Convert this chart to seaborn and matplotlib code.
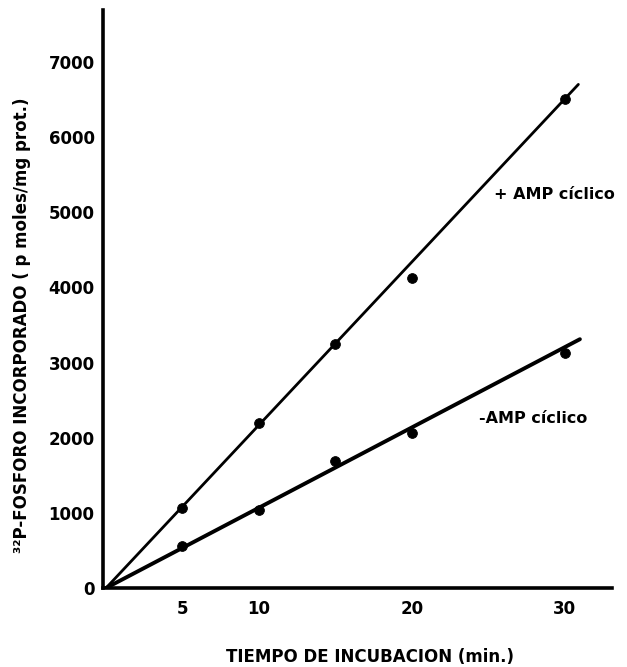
import matplotlib
matplotlib.use("Agg")
import matplotlib.pyplot as plt
import seaborn as sns
import pandas as pd

# Data
tiempo = [5, 10, 15, 20, 30]
con_amp = [1070, 2190, 3240, 4130, 6510]
sin_amp = [560, 1040, 1690, 2060, 3130]

fit_x_con = [0, 30.9]
fit_con = [0, 6700]
fit_x_sin = [0, 31.0]
fit_sin = [0, 3310]

x_ticks = [5, 10, 20, 30]
y_ticks = [0, 1000, 2000, 3000, 4000, 5000, 6000, 7000]

sns.set_style("white")
plt.rcParams['font.family'] = ['DejaVu Sans']
plt.rcParams['text.color'] = 'black'

fig = plt.figure(figsize=(6.27, 6.67), dpi=100)
ax = fig.add_axes([103/627, 1 - 588/667, (612-103)/627, (588-10)/667])

df = pd.DataFrame({"t": tiempo + tiempo,
                   "v": con_amp + sin_amp,
                   "g": ["+"] * 5 + ["-"] * 5})
sns.scatterplot(data=df, x="t", y="v", color="black", s=50, edgecolor="black",
                ax=ax, zorder=3, legend=False)
sns.lineplot(x=fit_x_con, y=fit_con, color="black", lw=2.0, ax=ax)
sns.lineplot(x=fit_x_sin, y=fit_sin, color="black", lw=2.8, ax=ax)

ax.set_xlim(-0.2, 33.1)
ax.set_ylim(0, 7690)
ax.set_xticks(x_ticks)
ax.set_yticks(y_ticks)
ax.set_xticklabels([str(v) for v in x_ticks], fontweight="bold", fontsize=12, color="black")
ax.set_yticklabels([str(v) for v in y_ticks], fontweight="bold", fontsize=12, color="black")
ax.tick_params(axis="x", direction="in", length=6, width=1.5, pad=9, colors="black")
ax.tick_params(axis="y", direction="out", length=5, width=1.5, pad=1, colors="black")

for s in ["top", "right"]:
    ax.spines[s].set_visible(False)
for s in ["left", "bottom"]:
    ax.spines[s].set_linewidth(2.6)
    ax.spines[s].set_color("black")

ax.set_xlabel("TIEMPO DE INCUBACION (min.)", fontweight="bold", fontsize=12, color="black")
ax.set_ylabel("³²P-FOSFORO INCORPORADO ( p moles/mg prot.)", fontweight="bold",
              fontsize=12, color="black")
ax.xaxis.set_label_coords(0.525, -0.103)
ax.yaxis.set_label_coords(-0.141, 0.455)

ax.text(25.4, 5230, "+ AMP cíclico", fontweight="bold", fontsize=11.5, va="center", ha="left")
ax.text(24.4, 2250, "-AMP cíclico", fontweight="bold", fontsize=11.5, va="center", ha="left")

fig.savefig("out.png", dpi=100)
